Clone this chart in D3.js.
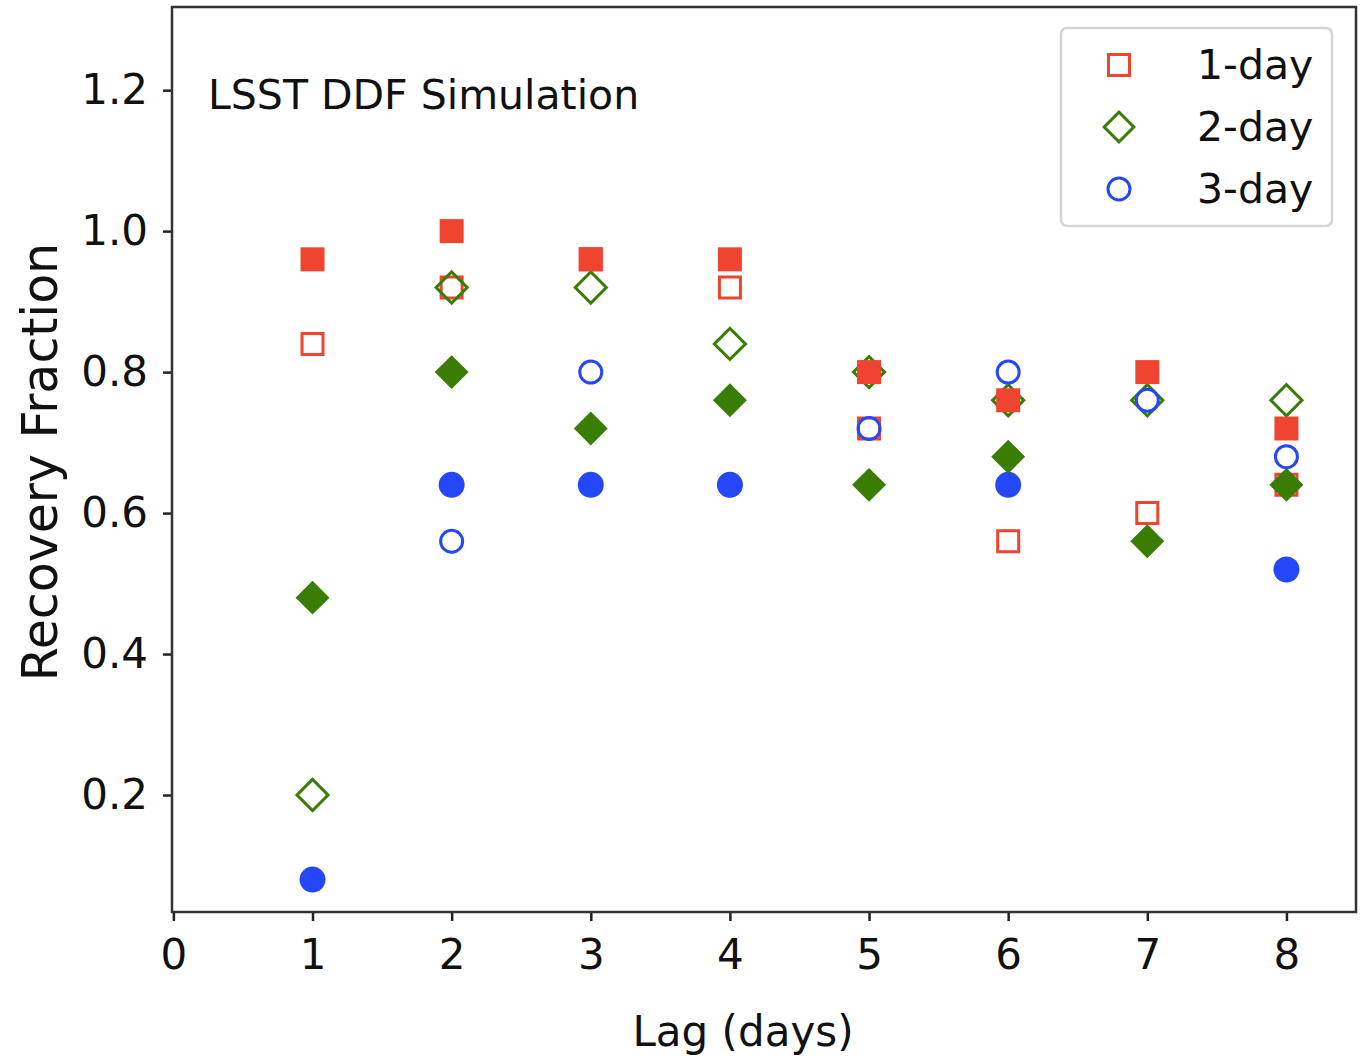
<!DOCTYPE html>
<html>
<head>
<meta charset="utf-8">
<script src="https://cdn.jsdelivr.net/npm/d3@7"></script>
<style>
body { margin: 0; background: #fff; }
svg text { font-family: "DejaVu Sans", sans-serif; fill: #111; }
</style>
</head>
<body>
<svg id="chart" width="1366" height="1058"></svg>
<script>
var lags = [1, 2, 3, 4, 5, 6, 7, 8];
// open markers (legend series)
var open1 = [0.84, 0.92, 0.96, 0.92, 0.72, 0.56, 0.60, 0.64];
var open2 = [0.20, 0.92, 0.92, 0.84, 0.80, 0.76, 0.76, 0.76];
var open3 = [null, 0.56, 0.80, 0.64, 0.72, 0.80, 0.76, 0.68];
// filled markers
var fill1 = [0.96, 1.00, 0.96, 0.96, 0.80, 0.76, 0.80, 0.72];
var fill2 = [0.48, 0.80, 0.72, 0.76, 0.64, 0.68, 0.56, 0.64];
var fill3 = [0.08, 0.64, 0.64, 0.64, null, 0.64, null, 0.52];
var xTicks = [0, 1, 2, 3, 4, 5, 6, 7, 8];
var yTicks = [0.2, 0.4, 0.6, 0.8, 1.0, 1.2];
var legendLabels = ['1-day', '2-day', '3-day'];

var red = '#ee4430', green = '#3a7d05', blue = '#2448f8';

(function(){
	var svg = d3.select('#chart');
	var pL = 172, pR = 1356, pT = 7, pB = 912;

	var x = d3.scaleLinear().domain([-0.01, 8.5]).range([pL, pR]);
	var y = d3.scaleLinear().domain([0.034, 1.318]).range([pB, pT]);

	svg.append('clipPath').attr('id', 'clip')
		.append('rect').attr('x', pL).attr('y', pT).attr('width', pR - pL).attr('height', pB - pT);

	var marks = svg.append('g').attr('clip-path', 'url(#clip)');

	function series(vals, shape, color, filled){
		var pts = lags.map(function(d, i){ return {x: d, y: vals[i]}; })
			.filter(function(d){ return d.y != null; });
		var size, sym;
		if (shape == 'square') { sym = d3.symbolSquare; size = filled ? 24 * 24 : 21 * 21; }
		else if (shape == 'diamond') { sym = d3.symbolSquare; size = filled ? 24 * 24 : 22 * 22; }
		else { sym = d3.symbolCircle; size = filled ? Math.PI * 13 * 13 : Math.PI * 11 * 11; }
		marks.selectAll(null).data(pts).enter()
			.append('path')
			.attr('d', d3.symbol().type(sym).size(size))
			.attr('transform', function(d){
				return 'translate(' + x(d.x) + ',' + y(d.y) + ')' + (shape == 'diamond' ? ' rotate(45)' : '');
			})
			.attr('fill', filled ? color : 'none')
			.attr('stroke', filled ? 'none' : color)
			.attr('stroke-width', 3);
	}

	series(open1, 'square', red, false);
	series(open2, 'diamond', green, false);
	series(open3, 'circle', blue, false);
	series(fill3, 'circle', blue, true);
	series(fill1, 'square', red, true);
	series(fill2, 'diamond', green, true);

	// axes
	var xAxis = d3.axisBottom(x).tickValues(xTicks).tickSize(9).tickPadding(18).tickFormat(d3.format('d'));
	var yAxis = d3.axisLeft(y).tickValues(yTicks).tickSize(9).tickPadding(15).tickFormat(d3.format('.1f'));

	var gx = svg.append('g').attr('transform', 'translate(0,' + pB + ')').call(xAxis);
	var gy = svg.append('g').attr('transform', 'translate(' + pL + ',0)').call(yAxis);
	[gx, gy].forEach(function(g){
		g.select('.domain').remove();
		g.selectAll('.tick line').attr('stroke', '#222').attr('stroke-width', 2.5);
		g.selectAll('.tick text').attr('font-size', 42).attr('font-family', '"DejaVu Sans", sans-serif').attr('fill', '#111');
	});

	svg.append('rect')
		.attr('x', pL).attr('y', pT).attr('width', pR - pL).attr('height', pB - pT)
		.attr('fill', 'none').attr('stroke', '#333').attr('stroke-width', 2.5);

	svg.append('text')
		.attr('x', 208).attr('y', 109)
		.attr('font-size', 41)
		.text('LSST DDF Simulation');

	svg.append('text')
		.attr('transform', 'translate(57,462) rotate(-90)')
		.attr('text-anchor', 'middle')
		.attr('font-size', 49)
		.text('Recovery Fraction');

	svg.append('text')
		.attr('x', 743).attr('y', 1046)
		.attr('text-anchor', 'middle')
		.attr('font-size', 42)
		.attr('font-family', 'Lato, "Open Sans", sans-serif')
		.text('Lag (days)');

	// legend
	var legend = svg.append('g');
	legend.append('rect')
		.attr('x', 1061).attr('y', 28).attr('width', 271).attr('height', 198)
		.attr('rx', 6).attr('fill', '#fff').attr('stroke', '#d4d4d4').attr('stroke-width', 2.5);
	var legendShapes = [
		{sym: d3.symbolSquare, size: 21 * 21, color: red, rot: 0},
		{sym: d3.symbolSquare, size: 21 * 21, color: green, rot: 45},
		{sym: d3.symbolCircle, size: Math.PI * 11 * 11, color: blue, rot: 0}
	];
	legendLabels.forEach(function(lab, i){
		var cy = 65 + i * 62;
		legend.append('path')
			.attr('d', d3.symbol().type(legendShapes[i].sym).size(legendShapes[i].size))
			.attr('transform', 'translate(1119,' + cy + ') rotate(' + legendShapes[i].rot + ')')
			.attr('fill', 'none').attr('stroke', legendShapes[i].color).attr('stroke-width', 3);
		legend.append('text')
			.attr('x', 1197).attr('y', cy + 14)
			.attr('font-size', 41)
			.text(lab);
	});
})();
</script>
</body>
</html>
